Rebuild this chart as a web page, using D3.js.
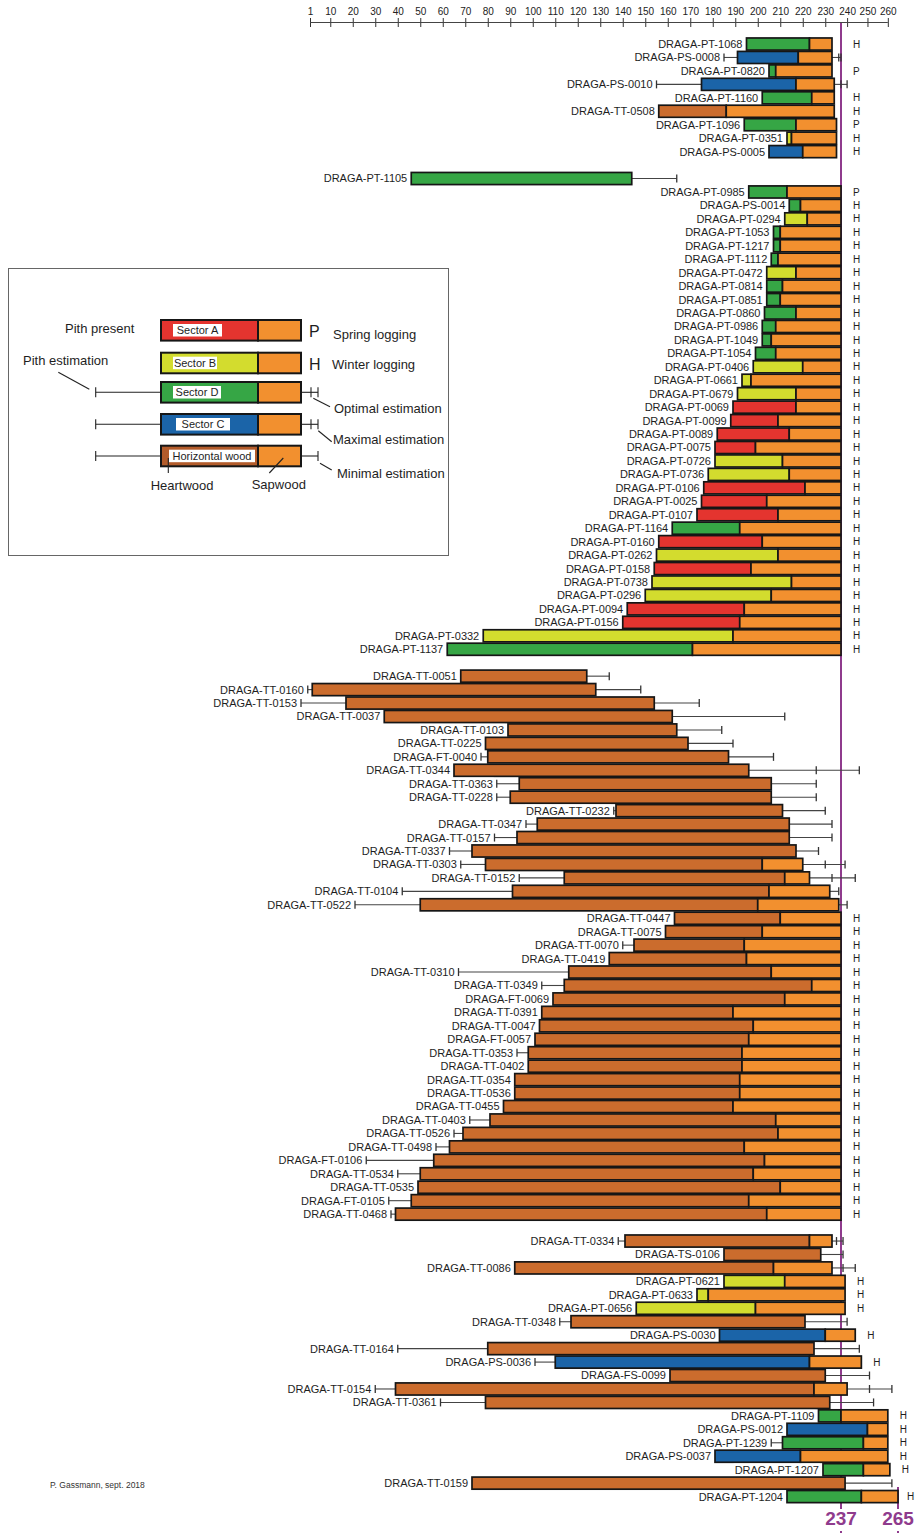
<!DOCTYPE html>
<html>
<head>
<meta charset="utf-8">
<script src="https://cdn.jsdelivr.net/npm/d3@7"></script>
<style>
  body { margin: 0; background: #fff; }
  svg { display: block; font-family: 'Liberation Sans', Arial, sans-serif; }
</style>
</head>
<body>
<div id="vis"></div>
<script>
'use strict'

// row = [name, wood, pithEstimate, firstRing, heartwoodEnd, lastRing, estMid, estMax, logging]
// wood: A/B/C/D = sector, W = horizontal wood
const groupTop = [
  ['DRAGA-PT-1068', 'D', null, 195, 223, 233, null, null, 'H']
, ['DRAGA-PS-0008', 'C', 185, 191, 218, 233, 236, 237, '']
, ['DRAGA-PT-0820', 'D', null, 205, 208, 233, null, null, 'P']
, ['DRAGA-PS-0010', 'C', 155, 175, 217, 234, 237, 240, '']
, ['DRAGA-PT-1160', 'D', null, 202, 224, 234, null, null, 'H']
, ['DRAGA-TT-0508', 'W', null, 156, 186, 234, null, null, 'H']
, ['DRAGA-PT-1096', 'D', null, 194, 217, 235, null, null, 'P']
, ['DRAGA-PT-0351', 'B', null, 213, 215, 235, null, null, 'H']
, ['DRAGA-PS-0005', 'C', null, 205, 220, 235, null, null, 'H']
]

const groupSectors = [
  ['DRAGA-PT-1105', 'D', null, 46, 144, 144, null, 164, '']
, ['DRAGA-PT-0985', 'D', null, 196, 213, 237, null, null, 'P']
, ['DRAGA-PS-0014', 'D', null, 214, 219, 237, null, null, 'H']
, ['DRAGA-PT-0294', 'B', null, 212, 222, 237, null, null, 'H']
, ['DRAGA-PT-1053', 'D', null, 207, 210, 237, null, null, 'H']
, ['DRAGA-PT-1217', 'D', null, 207, 210, 237, null, null, 'H']
, ['DRAGA-PT-1112', 'D', null, 206, 209, 237, null, null, 'H']
, ['DRAGA-PT-0472', 'B', null, 204, 217, 237, null, null, 'H']
, ['DRAGA-PT-0814', 'D', null, 204, 211, 237, null, null, 'H']
, ['DRAGA-PT-0851', 'D', null, 204, 210, 237, null, null, 'H']
, ['DRAGA-PT-0860', 'D', null, 203, 217, 237, null, null, 'H']
, ['DRAGA-PT-0986', 'D', null, 202, 208, 237, null, null, 'H']
, ['DRAGA-PT-1049', 'D', null, 202, 206, 237, null, null, 'H']
, ['DRAGA-PT-1054', 'D', null, 199, 208, 237, null, null, 'H']
, ['DRAGA-PT-0406', 'B', null, 198, 220, 237, null, null, 'H']
, ['DRAGA-PT-0661', 'B', null, 193, 197, 237, null, null, 'H']
, ['DRAGA-PT-0679', 'B', null, 191, 217, 237, null, null, 'H']
, ['DRAGA-PT-0069', 'A', null, 189, 217, 237, null, null, 'H']
, ['DRAGA-PT-0099', 'A', null, 188, 209, 237, null, null, 'H']
, ['DRAGA-PT-0089', 'A', null, 182, 214, 237, null, null, 'H']
, ['DRAGA-PT-0075', 'A', null, 181, 199, 237, null, null, 'H']
, ['DRAGA-PT-0726', 'B', null, 181, 211, 237, null, null, 'H']
, ['DRAGA-PT-0736', 'B', null, 178, 214, 237, null, null, 'H']
, ['DRAGA-PT-0106', 'A', null, 176, 221, 237, null, null, 'H']
, ['DRAGA-PT-0025', 'A', null, 175, 204, 237, null, null, 'H']
, ['DRAGA-PT-0107', 'A', null, 173, 209, 237, null, null, 'H']
, ['DRAGA-PT-1164', 'D', null, 162, 192, 237, null, null, 'H']
, ['DRAGA-PT-0160', 'A', null, 156, 202, 237, null, null, 'H']
, ['DRAGA-PT-0262', 'B', null, 155, 209, 237, null, null, 'H']
, ['DRAGA-PT-0158', 'A', null, 154, 197, 237, null, null, 'H']
, ['DRAGA-PT-0738', 'B', null, 153, 215, 237, null, null, 'H']
, ['DRAGA-PT-0296', 'B', null, 150, 206, 237, null, null, 'H']
, ['DRAGA-PT-0094', 'A', null, 142, 194, 237, null, null, 'H']
, ['DRAGA-PT-0156', 'A', null, 140, 192, 237, null, null, 'H']
, ['DRAGA-PT-0332', 'B', null, 78, 189, 237, null, null, 'H']
, ['DRAGA-PT-1137', 'D', null, 62, 171, 237, null, null, 'H']
]

const groupHorizontal = [
  ['DRAGA-TT-0051', 'W', null, 68, 124, 124, null, 134, '']
, ['DRAGA-TT-0160', 'W', 0, 2, 128, 128, null, 148, '']
, ['DRAGA-TT-0153', 'W', -3, 17, 154, 154, null, 174, '']
, ['DRAGA-TT-0037', 'W', null, 34, 162, 162, null, 212, '']
, ['DRAGA-TT-0103', 'W', null, 89, 164, 164, null, 184, '']
, ['DRAGA-TT-0225', 'W', null, 79, 169, 169, null, 189, '']
, ['DRAGA-FT-0040', 'W', 77, 80, 187, 187, null, 207, '']
, ['DRAGA-TT-0344', 'W', null, 65, 196, 196, 226, 246, '']
, ['DRAGA-TT-0363', 'W', 84, 94, 206, 206, null, 226, '']
, ['DRAGA-TT-0228', 'W', 84, 90, 206, 206, null, 226, '']
, ['DRAGA-TT-0232', 'W', 136, 137, 211, 211, null, 230, '']
, ['DRAGA-TT-0347', 'W', 97, 102, 214, 214, null, 233, '']
, ['DRAGA-TT-0157', 'W', 83, 93, 214, 214, null, 233, '']
, ['DRAGA-TT-0337', 'W', 63, 73, 217, 217, null, 227, '']
, ['DRAGA-TT-0303', 'W', 68, 79, 202, 220, 230, 239, '']
, ['DRAGA-TT-0152', 'W', 94, 114, 212, 223, 233, 244, '']
, ['DRAGA-TT-0104', 'W', 42, 91, 205, 232, null, 236, '']
, ['DRAGA-TT-0522', 'W', 21, 50, 200, 236, null, 240, '']
, ['DRAGA-TT-0447', 'W', null, 163, 210, 237, null, null, 'H']
, ['DRAGA-TT-0075', 'W', null, 159, 202, 237, null, null, 'H']
, ['DRAGA-TT-0070', 'W', 140, 145, 194, 237, null, null, 'H']
, ['DRAGA-TT-0419', 'W', null, 134, 195, 237, null, null, 'H']
, ['DRAGA-TT-0310', 'W', 67, 116, 206, 237, null, null, 'H']
, ['DRAGA-TT-0349', 'W', 104, 114, 224, 237, null, null, 'H']
, ['DRAGA-FT-0069', 'W', null, 109, 212, 237, null, null, 'H']
, ['DRAGA-TT-0391', 'W', null, 104, 189, 237, null, null, 'H']
, ['DRAGA-TT-0047', 'W', null, 103, 198, 237, null, null, 'H']
, ['DRAGA-FT-0057', 'W', null, 101, 196, 237, null, null, 'H']
, ['DRAGA-TT-0353', 'W', 93, 98, 193, 237, null, null, 'H']
, ['DRAGA-TT-0402', 'W', null, 98, 193, 237, null, null, 'H']
, ['DRAGA-TT-0354', 'W', null, 92, 192, 237, null, null, 'H']
, ['DRAGA-TT-0536', 'W', null, 92, 192, 237, null, null, 'H']
, ['DRAGA-TT-0455', 'W', null, 87, 189, 237, null, null, 'H']
, ['DRAGA-TT-0403', 'W', 72, 81, 208, 237, null, null, 'H']
, ['DRAGA-TT-0526', 'W', 65, 69, 209, 237, null, null, 'H']
, ['DRAGA-TT-0498', 'W', 57, 63, 194, 237, null, null, 'H']
, ['DRAGA-FT-0106', 'W', 26, 56, 203, 237, null, null, 'H']
, ['DRAGA-TT-0534', 'W', 40, 50, 198, 237, null, null, 'H']
, ['DRAGA-TT-0535', 'W', null, 49, 210, 237, null, null, 'H']
, ['DRAGA-FT-0105', 'W', 36, 46, 196, 237, null, null, 'H']
, ['DRAGA-TT-0468', 'W', 37, 39, 204, 237, null, null, 'H']
]

const groupLate = [
  ['DRAGA-TT-0334', 'W', 138, 141, 223, 233, 235, 238, '']
, ['DRAGA-TS-0106', 'W', null, 185, 228, 228, null, 238, '']
, ['DRAGA-TT-0086', 'W', null, 92, 207, 233, 238, 244, '']
, ['DRAGA-PT-0621', 'B', null, 185, 212, 239, null, null, 'H']
, ['DRAGA-PT-0633', 'B', null, 173, 178, 239, null, null, 'H']
, ['DRAGA-PT-0656', 'B', null, 146, 199, 239, null, null, 'H']
, ['DRAGA-TT-0348', 'W', 112, 117, 221, 221, null, 240, '']
, ['DRAGA-PS-0030', 'C', null, 183, 230, 244, null, null, 'H']
, ['DRAGA-TT-0164', 'W', 40, 80, 225, 225, null, 246, '']
, ['DRAGA-PS-0036', 'C', 101, 110, 223, 247, null, null, 'H']
, ['DRAGA-FS-0099', 'W', null, 161, 230, 230, null, 251, '']
, ['DRAGA-TT-0154', 'W', 30, 39, 225, 240, 251, 262, '']
, ['DRAGA-TT-0361', 'W', 59, 79, 232, 232, null, 253, '']
, ['DRAGA-PT-1109', 'D', null, 227, 237, 260, null, null, 'H']
, ['DRAGA-PS-0012', 'C', null, 213, 250, 260, null, null, 'H']
, ['DRAGA-PT-1239', 'D', 206, 211, 248, 260, null, null, 'H']
, ['DRAGA-PS-0037', 'C', null, 181, 219, 260, null, null, 'H']
, ['DRAGA-PT-1207', 'D', null, 229, 248, 261, null, null, 'H']
, ['DRAGA-TT-0159', 'W', null, 73, 239, 239, null, 262, '']
, ['DRAGA-PT-1204', 'D', null, 213, 247, 265, null, null, 'H']
]

const tickValues = [1, 10, 20, 30, 40, 50, 60, 70, 80, 90, 100, 110, 120, 130,
  140, 150, 160, 170, 180, 190, 200, 210, 220, 230, 240, 250, 260]
const fellingYears = [237, 265]

const woodColors = { A: '#e4342f', B: '#d3dc2e', C: '#1b64a8', D: '#36a645', W: '#cb6c2d' }
const sapColor = '#f2902f'
const purple = '#8f3b8d'

//
// ROWS
//

function toRow(r, gi) {
  return { key: r[0] + '#' + gi, name: r[0], wood: r[1], pith: r[2], start: r[3], hw: r[4],
           end: r[5], estMid: r[6], estMax: r[7], season: r[8] }
}

const groups = [groupTop, groupSectors, groupHorizontal, groupLate]
let rows = []
let keys = []
groups.forEach((g, gi) => {
  if (gi > 0) keys.push('gap' + gi) // blank row between groups
  g.forEach(r => {
    const row = toRow(r, gi)
    rows.push(row)
    keys.push(row.key)
  })
})

//
// SCALES
//

const width = 915
const height = 1533

const x = d3.scaleLinear()
  .domain([1, 237, 265])
  .range([310, 841, 898])

const y = d3.scaleBand()
  .domain(keys)
  .range([37.3, 1503.3])
  .paddingInner(0.1)
  .paddingOuter(0.05)

const bh = y.bandwidth()
const cy = d => y(d.key) + bh / 2

const svg = d3.select('div#vis')
  .append('svg')
    .attr('width', width)
    .attr('height', height)

//
// AXIS
//

const axis = svg.append('g')
  .attr('transform', 'translate(0,22.5)')
  .call(d3.axisTop(x).tickValues(tickValues).tickSize(4.5).tickPadding(3).tickFormat(d3.format('d')))

axis.select('.domain').remove()
axis.selectAll('.tick line').attr('y1', 4.5).attr('stroke', '#333')
axis.selectAll('.tick text')
  .attr('font-size', 10)
  .attr('fill', '#222')
  .attr('font-family', "'Liberation Sans', Arial, sans-serif")

axis.append('line')
  .attr('x1', x(1)).attr('x2', x(260))
  .attr('stroke', '#444')
  .attr('stroke-width', 1.2)

//
// FELLING LINES
//

svg.append('line')
  .attr('x1', x(fellingYears[0])).attr('x2', x(fellingYears[0]))
  .attr('y1', 23).attr('y2', height)
  .attr('stroke', purple).attr('stroke-width', 2)

svg.append('line')
  .attr('x1', x(fellingYears[1])).attr('x2', x(fellingYears[1]))
  .attr('y1', 1487).attr('y2', height)
  .attr('stroke', purple).attr('stroke-width', 2)

//
// BARS
//

const rowG = svg.append('g')
  .selectAll('g.row')
  .data(rows)
  .join('g')
    .attr('class', 'row')

// left whisker (pith estimation)
const withPith = rowG.filter(d => d.pith !== null)
withPith.append('line')
  .attr('x1', d => x(d.pith)).attr('x2', d => x(d.start))
  .attr('y1', cy).attr('y2', cy)
  .attr('stroke', '#444').attr('stroke-width', 1.1)
withPith.append('line')
  .attr('x1', d => x(d.pith)).attr('x2', d => x(d.pith))
  .attr('y1', d => cy(d) - 4).attr('y2', d => cy(d) + 4)
  .attr('stroke', '#333').attr('stroke-width', 1.3)

// right whisker (sapwood estimation)
const withEst = rowG.filter(d => d.estMax !== null)
withEst.append('line')
  .attr('x1', d => x(d.end)).attr('x2', d => x(d.estMax))
  .attr('y1', cy).attr('y2', cy)
  .attr('stroke', '#444').attr('stroke-width', 1.1)
withEst.append('line')
  .attr('x1', d => x(d.estMax)).attr('x2', d => x(d.estMax))
  .attr('y1', d => cy(d) - 4).attr('y2', d => cy(d) + 4)
  .attr('stroke', '#333').attr('stroke-width', 1.3)
withEst.filter(d => d.estMid !== null)
  .append('line')
    .attr('x1', d => x(d.estMid)).attr('x2', d => x(d.estMid))
    .attr('y1', d => cy(d) - 4).attr('y2', d => cy(d) + 4)
    .attr('stroke', '#333').attr('stroke-width', 1.3)

// heartwood / sector part
rowG.append('rect')
  .attr('x', d => x(d.start))
  .attr('y', d => y(d.key))
  .attr('width', d => x(d.hw) - x(d.start))
  .attr('height', bh)
  .attr('fill', d => woodColors[d.wood])
  .attr('stroke', '#161616')
  .attr('stroke-width', 1.7)

// sapwood part
rowG.filter(d => d.end > d.hw)
  .append('rect')
    .attr('x', d => x(d.hw))
    .attr('y', d => y(d.key))
    .attr('width', d => x(d.end) - x(d.hw))
    .attr('height', bh)
    .attr('fill', sapColor)
    .attr('stroke', '#161616')
    .attr('stroke-width', 1.7)

// labels with white backing
const labels = rowG.append('g')
labels.append('text')
  .attr('x', d => x(d.pith !== null ? Math.min(d.pith, d.start) : d.start) - 4)
  .attr('y', cy)
  .attr('dy', '0.36em')
  .attr('text-anchor', 'end')
  .attr('font-size', 11)
  .attr('fill', '#1e1e1e')
  .text(d => d.name)
labels.each(function() {
  const g = d3.select(this)
  const b = g.select('text').node().getBBox()
  g.insert('rect', 'text')
    .attr('x', b.x - 1).attr('y', b.y)
    .attr('width', b.width + 2).attr('height', b.height)
    .attr('fill', '#fff')
})

// logging season
rowG.filter(d => d.season !== '')
  .append('text')
    .attr('x', d => Math.min(Math.max(x(d.end) + 12, 853), width - 8))
    .attr('y', cy)
    .attr('dy', '0.36em')
    .attr('font-size', 10)
    .attr('fill', '#1e1e1e')
    .text(d => d.season)

//
// FELLING LABELS
//

fellingYears.forEach(v => {
  const t = svg.append('text')
    .attr('x', x(v))
    .attr('y', 1525)
    .attr('text-anchor', 'middle')
    .attr('font-size', 19)
    .attr('font-weight', 'bold')
    .attr('fill', purple)
    .text(v)
  const b = t.node().getBBox()
  svg.insert('rect', () => t.node())
    .attr('x', b.x - 1).attr('y', b.y + 1)
    .attr('width', b.width + 2).attr('height', b.height + 1)
    .attr('fill', '#fff')
})

//
// LEGEND
//

const legend = svg.append('g')

legend.append('rect')
  .attr('x', 8.5).attr('y', 268.5)
  .attr('width', 440).attr('height', 287)
  .attr('fill', 'none')
  .attr('stroke', '#666')

const legendRows = [
  { label: 'Sector A', fill: woodColors.A, y: 320, box: [173, 49] }
, { label: 'Sector B', fill: woodColors.B, y: 352.7, box: [173, 44] }
, { label: 'Sector D', fill: woodColors.D, y: 382, box: [173, 48] }
, { label: 'Sector C', fill: woodColors.C, y: 414, box: [176, 54] }
, { label: 'Horizontal wood', fill: '#b35c2b', y: 445.7, box: [169, 86] }
]

function legendLine(x1, y1, x2, y2) {
  legend.append('line')
    .attr('x1', x1).attr('y1', y1).attr('x2', x2).attr('y2', y2)
    .attr('stroke', '#222').attr('stroke-width', 1.1)
}

function legendText(tx, ty, s, size) {
  legend.append('text')
    .attr('x', tx).attr('y', ty).attr('dy', '0.35em')
    .attr('font-size', size || 13)
    .attr('fill', '#1e1e1e')
    .text(s)
}

legendRows.forEach((r, i) => {
  const mid = r.y + 10.3
  if (i >= 2) {
    legendLine(95.7, mid, 161, mid)
    legendLine(95.7, mid - 5, 95.7, mid + 5)
    legendLine(301, mid, 318, mid)
    legendLine(318, mid - 5, 318, mid + 5)
    if (i < 4) legendLine(311, mid - 5, 311, mid + 5)
  }
  legend.append('rect')
    .attr('x', 161).attr('y', r.y).attr('width', 97).attr('height', 20.6)
    .attr('fill', r.fill).attr('stroke', '#161616').attr('stroke-width', 2)
  legend.append('rect')
    .attr('x', 258).attr('y', r.y).attr('width', 43).attr('height', 20.6)
    .attr('fill', sapColor).attr('stroke', '#161616').attr('stroke-width', 2)
  legend.append('rect')
    .attr('x', r.box[0]).attr('y', r.y + 4).attr('width', r.box[1]).attr('height', 12.5)
    .attr('fill', '#fff')
  legend.append('text')
    .attr('x', r.box[0] + r.box[1] / 2).attr('y', mid).attr('dy', '0.35em')
    .attr('text-anchor', 'middle')
    .attr('font-size', 11)
    .attr('fill', '#1e1e1e')
    .text(r.label)
})

legendText(65, 328, 'Pith present')
legendText(23, 360, 'Pith estimation')
legendLine(58.3, 372.3, 89.3, 389.3)
legendText(309, 331, 'P', 16)
legendText(309, 364, 'H', 16)
legendText(333, 334, 'Spring logging')
legendText(332, 364, 'Winter logging')
legendLine(313.3, 398.3, 330, 406.7)
legendText(334, 408.5, 'Optimal estimation')
legendLine(318.3, 430.7, 331.7, 441.7)
legendText(333, 439.5, 'Maximal estimation')
legendLine(320, 463.3, 331.7, 470)
legendText(337, 473.5, 'Minimal estimation')
legendLine(168.3, 458, 168.3, 473)
legendText(150.7, 485, 'Heartwood')
legendLine(283.3, 458, 269.3, 473)
legendText(251.7, 484, 'Sapwood')

// credit
svg.append('text')
  .attr('x', 50)
  .attr('y', 1488)
  .attr('font-size', 8.5)
  .attr('fill', '#333')
  .text('P. Gassmann, sept. 2018')
</script>
</body>
</html>
